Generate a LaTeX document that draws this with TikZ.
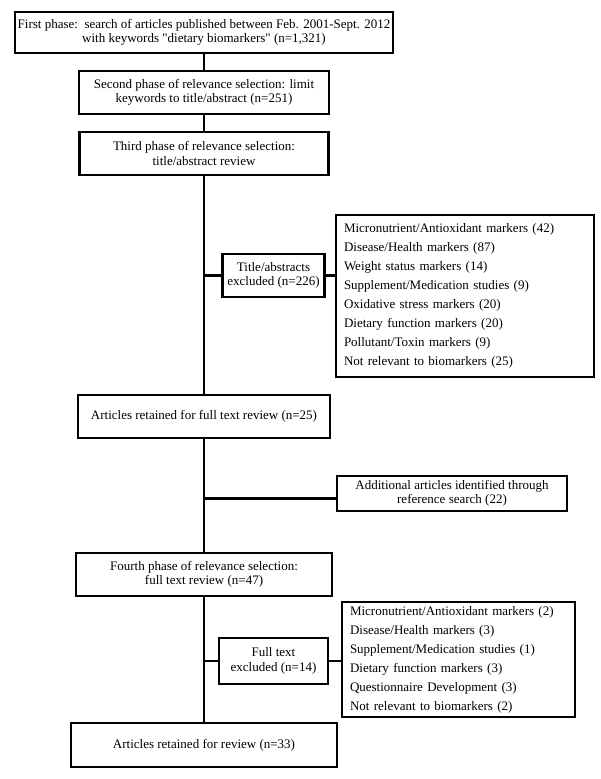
\documentclass[tikz,border=0pt]{standalone}
\usepackage{fontspec}
\setmainfont{Liberation Serif}
\begin{document}
\begin{tikzpicture}[x=1pt,y=-1pt,
  box/.style={draw, line width=2.4pt, align=center, inner sep=0pt, font=\fontsize{13}{14.5}\selectfont},
  listbox/.style={draw, line width=2.4pt, align=left, inner xsep=8pt, inner ysep=0pt, font=\fontsize{13}{19}\selectfont},
  link/.style={line width=2.4pt}]
\useasboundingbox (0,0) rectangle (600,779);
\node[box, minimum width=378pt, minimum height=41pt] (b1) at (204,32.5)
  {First phase:\ \ search of articles published between Feb. 2001-Sept. 2012\\with keywords \textquotedbl dietary biomarkers\textquotedbl\ (n=1,321)};
\node[box, minimum width=250pt, minimum height=43pt] (b2) at (204,92.5)
  {Second phase of relevance selection: limit\\keywords to title/abstract (n=251)};
\node[box, minimum width=249pt, minimum height=43pt] (b3) at (204,153.5)
  {Third phase of relevance selection:\\title/abstract review};
\node[box, minimum width=102pt, minimum height=43pt] (ex1) at (273.5,275.5)
  {Title/abstracts\\excluded (n=226)};
\node[listbox, text width=242pt, minimum height=162pt] (l1) at (465,296)
  {Micronutrient/Antioxidant markers (42)\\Disease/Health markers (87)\\Weight status markers (14)\\Supplement/Medication studies (9)\\Oxidative stress markers (20)\\Dietary function markers (20)\\Pollutant/Toxin markers (9)\\Not relevant to biomarkers (25)};
\node[box, minimum width=252pt, minimum height=43pt] (b4) at (204,416.5)
  {Articles retained for full text review (n=25)};
\node[box, minimum width=230pt, minimum height=35pt] (add) at (452,493.5)
  {Additional articles identified through\\reference search (22)};
\node[box, minimum width=256pt, minimum height=43pt] (b5) at (204,574.5)
  {Fourth phase of relevance selection:\\full text review (n=47)};
\node[box, minimum width=109pt, minimum height=46pt] (ex2) at (273.5,661)
  {Full text\\excluded (n=14)};
\node[listbox, text width=217pt, minimum height=115pt] (l2) at (458.5,659.5)
  {Micronutrient/Antioxidant markers (2)\\Disease/Health markers (3)\\Supplement/Medication studies (1)\\Dietary function markers (3)\\Questionnaire Development (3)\\Not relevant to biomarkers (2)};
\node[box, minimum width=266pt, minimum height=44pt] (b6) at (204,745)
  {Articles retained for review (n=33)};

\draw[link] (b1.south) -- (b2.north);
\draw[link] (b2.south) -- (b3.north);
\draw[link] (b3.south) -- (b4.north);
\draw[link] (ex1.west -| b3.south) -- (ex1.west);
\draw[link] (ex1.east) -- (ex1.east -| l1.west);
\draw[link] (b4.south) -- (b5.north);
\coordinate (addin) at ([yshift=-5pt]add.west);
\draw[link] (addin -| b4.south) -- (addin);
\draw[link] (b5.south) -- (b6.north);
\draw[link] (ex2.west -| b5.south) -- (ex2.west);
\draw[link] (ex2.east) -- (ex2.east -| l2.west);
\end{tikzpicture}
\end{document}
